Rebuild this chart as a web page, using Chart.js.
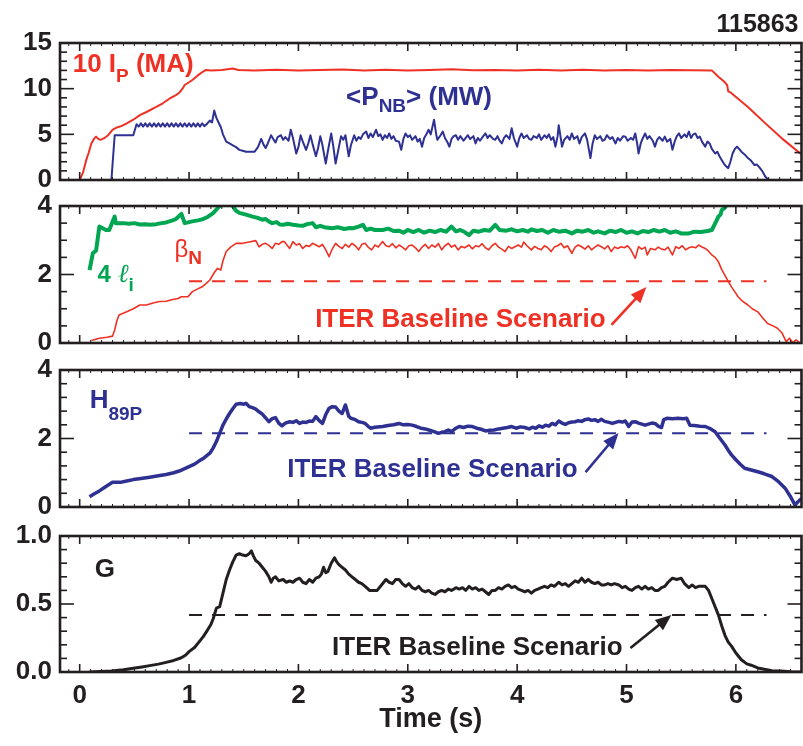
<!DOCTYPE html>
<html><head><meta charset="utf-8">
<script src="https://cdn.jsdelivr.net/npm/chart.js@4.4.1/dist/chart.umd.min.js"></script>
<style>
html,body{margin:0;padding:0;background:#fff;}
#wrap{position:relative;width:803px;height:746px;overflow:hidden;background:#fff;}
canvas{position:absolute;left:0;}
</style></head><body>
<div id="wrap">
<canvas id="c1" width="803" height="210" style="top:0px"></canvas>
<canvas id="c2" width="803" height="197" style="top:176px"></canvas>
<canvas id="c3" width="803" height="197" style="top:340px"></canvas>
<canvas id="c4" width="803" height="240" style="top:506px"></canvas>
</div>
<script>
// ---------------- DATA ----------------
const shotNumber = '115863';
const timeTicks = [0, 1, 2, 3, 4, 5, 6];

// Panel 1: 10 Ip (MA)
const ipT = [-0.18,0.0,0.03,0.06,0.08,0.107,0.13,0.15,0.17,0.19,0.22,0.26,0.30,0.34,0.38,0.43,0.49,0.55,0.62,0.70,0.76,0.82,0.88,0.91,0.94,0.96,1.0,1.03,1.08,1.125,1.156,1.2,1.3,1.4,1.45,1.6,1.8,2.0,2.2,2.4,2.6,2.8,3.0,3.2,3.4,3.6,3.8,4.0,4.2,4.4,4.6,4.8,5.0,5.2,5.4,5.6,5.78,5.84,5.90,5.92,5.93,5.95,5.96,6.11,6.27,6.42,6.6];
const ipV = [0,0,0.8,2.2,2.9,4.0,4.5,4.75,4.5,4.4,4.55,4.9,5.5,5.75,5.9,6.2,6.6,7.1,7.5,8.0,8.4,8.9,9.3,9.55,10.0,10.4,10.7,10.95,11.45,11.85,12.05,11.98,12.05,12.2,12.05,12.0,12.08,11.98,12.05,12.1,12.0,12.06,11.98,12.05,12.12,12.02,12.05,11.98,12.06,12.0,12.08,12.0,12.04,11.98,12.05,12.02,12.0,11.3,10.7,10.4,9.7,9.6,9.5,8.0,6.2,4.56,2.8];

// Panel 1: <P_NB> (MW)
const pnbT = [0.0,0.29,0.32,0.49,0.52,0.54,0.56,0.58,0.60,0.62,0.64,0.66,0.68,0.70,0.72,0.74,0.76,0.78,0.80,0.82,0.84,0.86,0.88,0.90,0.92,0.94,0.96,0.98,1.00,1.02,1.04,1.06,1.08,1.10,1.12,1.14,1.16,
1.19,1.21,1.23,1.25,1.27,1.29,1.31,1.34,1.37,1.40,1.43,1.46,1.49,1.52,1.56,1.60,1.63,1.66,1.68,1.70,1.72,1.75,1.77,1.79,1.81,1.84,1.86,1.88,1.91,1.93,1.95,1.98,2.00,2.02,2.04,2.07,2.09,2.11,2.13,2.16,2.18,2.20,2.22,2.25,2.27,2.30,2.32,2.34,2.36,2.39,2.41,2.43,2.46,2.48,2.51,2.53,2.55,2.57,2.59,2.62,2.64,2.66,2.68,2.71,2.73,2.75,2.77,2.79,2.81,2.83,2.85,2.87,2.89,2.92,2.94,2.96,2.98,3.00,3.02,3.04,3.07,3.09,3.11,3.13,3.15,3.17,3.19,3.21,3.24,3.26,3.27,3.30,3.32,3.34,3.36,3.38,3.40,3.42,3.44,3.46,3.48,3.51,3.53,3.55,3.57,3.60,3.62,3.64,3.66,3.69,3.71,3.73,3.75,3.78,3.80,3.82,3.84,3.86,3.88,3.90,3.93,3.95,3.97,4.00,4.02,4.04,4.06,4.09,4.11,4.13,4.15,4.18,4.20,4.22,4.25,4.27,4.29,4.31,4.33,4.35,4.37,4.38,4.40,4.41,4.43,4.46,4.48,4.50,4.52,4.55,4.57,4.59,4.62,4.64,4.67,4.69,4.71,4.73,4.76,4.78,4.80,4.82,4.85,4.87,4.90,4.92,4.94,4.97,4.99,5.01,5.04,5.06,5.08,5.10,5.11,5.13,5.15,5.17,5.19,5.21,5.24,5.26,5.28,5.30,5.33,5.35,5.37,5.40,5.42,5.44,5.46,5.48,5.50,5.53,5.55,5.57,5.59,5.61,5.63,5.65,5.67,5.69,5.72,5.74,5.76,5.78,5.81,5.83,5.85,5.87,5.89,5.91,5.93,5.95,5.97,5.99,6.01,6.03,6.05,6.08,6.11,6.14,6.17,6.19,6.21,6.24,6.27,6.30,6.60];
const pnbV = [0,0,4.9,4.9,6.1,5.85,6.2,5.85,6.2,5.85,6.2,5.85,6.2,5.85,6.2,5.85,6.2,5.85,6.2,5.85,6.2,5.85,6.2,5.85,6.2,5.85,6.2,5.85,6.2,5.85,6.2,5.85,6.2,5.85,6.2,5.9,6.1,
6.5,6.3,7.6,6.8,6.3,5.8,5.0,4.2,4.0,3.8,3.6,3.3,3.2,3.1,3.1,3.1,3.6,4.5,3.9,3.5,4.0,4.9,4.5,4.1,4.7,4.9,4.4,4.7,4.3,5.5,4.6,2.9,3.6,4.9,4.2,3.3,4.0,4.9,3.9,2.6,3.5,4.8,3.8,1.8,3.2,5.1,3.6,1.8,3.0,4.8,4.4,4.9,2.6,3.8,4.9,4.3,4.7,4.5,5.0,5.3,4.6,5.1,4.7,5.5,4.8,5.0,4.4,4.9,4.6,5.1,4.5,4.8,4.3,4.2,3.3,4.5,5.1,4.7,4.9,4.4,4.8,4.2,4.5,3.65,4.6,5.0,5.5,5.0,6.6,5.0,4.4,4.9,5.3,4.6,4.2,3.65,4.5,4.8,4.9,4.4,4.8,4.3,4.6,4.9,4.5,4.8,4.0,4.6,4.3,4.8,5.1,4.6,4.9,4.5,4.4,4.8,4.3,4.0,4.6,4.9,4.5,5.66,4.6,3.65,4.6,5.1,4.6,4.9,4.5,4.4,4.8,4.6,5.0,4.4,4.9,4.6,5.0,4.4,4.7,3.65,4.8,6.0,4.5,3.65,4.4,4.8,4.4,5.1,4.5,4.8,4.0,4.7,5.1,4.4,2.4,4.0,4.9,4.5,4.8,4.3,4.4,4.9,4.5,4.7,4.0,4.6,4.3,4.8,4.75,4.3,4.6,4.4,5.1,3.8,2.9,4.0,4.6,5.1,4.5,4.8,4.3,3.65,4.4,4.7,4.3,4.75,4.2,4.5,3.3,4.2,4.8,5.1,4.6,5.0,4.7,5.3,4.6,5.0,5.1,4.6,4.75,4.2,3.65,4.2,4.0,3.4,2.9,3.1,2.6,2.2,1.8,1.5,1.3,2.0,2.9,3.4,3.65,3.4,3.1,2.8,2.4,2.1,1.64,1.7,1.46,1.0,0.36,0,0];

// Panel 2: 4 li
const liT = [0.09,0.12,0.15,0.18,0.21,0.24,0.27,0.32,0.33,0.40,0.45,0.50,0.55,0.60,0.64,0.70,0.75,0.79,0.85,0.88,0.93,0.96,1.0,1.03,1.08,1.12,1.17,1.22,1.28,1.34,1.40,1.43,1.46,1.52,1.58,1.62,1.67,1.70,1.73,1.76,1.80,1.83,1.86,1.90,1.95,2.00,2.04,2.08,2.13,2.16,2.20,2.25,2.31,2.36,2.42,2.47,2.50,2.55,2.59,2.62,2.66,2.70,2.77,2.82,2.87,2.92,2.96,3.00,3.05,3.10,3.15,3.20,3.25,3.30,3.35,3.40,3.44,3.48,3.52,3.56,3.60,3.65,3.70,3.75,3.80,3.84,3.90,3.95,4.00,4.05,4.10,4.13,4.18,4.23,4.28,4.33,4.38,4.44,4.50,4.55,4.60,4.65,4.70,4.74,4.80,4.85,4.90,4.95,5.00,5.05,5.10,5.15,5.20,5.25,5.30,5.35,5.40,5.45,5.50,5.57,5.62,5.68,5.74,5.78,5.82,5.84,5.86,5.87,5.90,5.92,5.96];
const liV = [2.13,2.62,2.7,3.4,3.35,3.3,3.3,3.69,3.5,3.5,3.48,3.5,3.46,3.47,3.45,3.47,3.5,3.52,3.58,3.62,3.77,3.5,3.53,3.55,3.58,3.61,3.68,3.79,4.0,4.3,4.0,3.86,3.8,3.75,3.69,3.66,3.6,3.62,3.55,3.5,3.53,3.46,3.45,3.48,3.45,3.43,3.42,3.47,3.5,3.38,3.42,3.37,3.35,3.38,3.33,3.36,3.35,3.4,3.45,3.3,3.34,3.3,3.3,3.34,3.27,3.28,3.22,3.3,3.24,3.3,3.22,3.28,3.24,3.3,3.25,3.4,3.26,3.3,3.24,3.15,3.28,3.25,3.3,3.28,3.45,3.3,3.28,3.32,3.26,3.3,3.25,3.32,3.27,3.3,3.22,3.3,3.25,3.28,3.2,3.28,3.25,3.3,3.22,3.26,3.2,3.28,3.24,3.3,3.22,3.26,3.2,3.27,3.24,3.3,3.25,3.3,3.22,3.26,3.2,3.2,3.25,3.24,3.27,3.3,3.55,3.69,3.75,3.88,3.95,4.05,4.4];

// Panel 2: beta_N
const bnT = [0.107,0.18,0.25,0.30,0.32,0.34,0.36,0.43,0.49,0.55,0.61,0.67,0.73,0.79,0.85,0.90,0.93,0.99,1.03,1.08,1.12,1.16,1.19,1.23,1.26,1.29,1.31,1.34,1.38,1.43,1.49,1.55,1.61,1.64,1.67,1.70,1.73,1.76,1.79,1.82,1.85,1.87,1.92,1.95,1.98,2.01,2.04,2.07,2.10,2.13,2.16,2.19,2.22,2.25,2.28,2.31,2.34,2.37,2.40,2.43,2.46,2.49,2.52,2.55,2.58,2.61,2.64,2.67,2.70,2.73,2.77,2.80,2.83,2.86,2.89,2.92,2.95,2.98,3.01,3.04,3.07,3.10,3.13,3.16,3.19,3.22,3.25,3.28,3.31,3.34,3.37,3.40,3.43,3.46,3.49,3.52,3.56,3.59,3.62,3.65,3.68,3.71,3.74,3.77,3.80,3.83,3.86,3.89,3.92,3.95,3.98,4.01,4.04,4.06,4.09,4.13,4.16,4.19,4.22,4.25,4.28,4.31,4.34,4.37,4.40,4.43,4.46,4.50,4.53,4.56,4.59,4.62,4.65,4.68,4.71,4.74,4.77,4.80,4.83,4.86,4.89,4.92,4.95,4.98,5.01,5.04,5.08,5.11,5.14,5.17,5.19,5.22,5.26,5.29,5.32,5.35,5.38,5.42,5.45,5.48,5.51,5.54,5.57,5.60,5.63,5.66,5.69,5.72,5.75,5.78,5.81,5.84,5.87,5.89,5.93,5.96,6.00,6.02,6.06,6.11,6.15,6.20,6.24,6.29,6.34,6.38,6.42,6.46,6.49,6.52,6.55,6.58];
const bnV = [0.07,0.14,0.17,0.2,0.38,0.65,0.82,0.91,1.0,1.11,1.11,1.17,1.21,1.22,1.27,1.3,1.35,1.35,1.5,1.58,1.64,1.75,1.84,2.05,2.18,2.13,2.4,2.67,2.8,2.91,2.91,2.95,2.99,2.81,2.88,2.91,2.85,2.76,2.91,2.88,2.96,2.96,2.76,2.96,2.86,2.9,2.76,2.85,2.82,2.91,2.86,2.81,2.88,2.72,2.52,2.75,2.91,2.82,2.76,2.88,2.8,2.91,2.84,2.72,2.88,2.91,2.79,2.72,2.86,2.8,2.96,2.84,2.81,2.9,2.78,2.86,2.8,2.72,2.84,2.86,2.78,2.67,2.8,2.88,2.76,2.86,2.8,2.9,2.72,2.84,2.91,2.8,2.86,2.72,2.82,2.78,2.86,2.75,2.84,2.81,2.9,2.78,2.72,2.84,2.91,2.8,2.74,2.67,2.82,2.76,2.81,2.86,2.8,2.95,2.84,2.72,2.82,2.76,2.72,2.84,2.78,2.67,2.8,2.84,2.91,2.78,2.84,2.62,2.8,2.86,2.81,2.74,2.84,2.72,2.8,2.86,2.81,2.75,2.84,2.67,2.8,2.76,2.81,2.78,2.84,2.72,2.47,2.81,2.74,2.8,2.57,2.76,2.72,2.8,2.74,2.72,2.8,2.57,2.81,2.76,2.84,2.72,2.78,2.81,2.78,2.86,2.8,2.76,2.68,2.57,2.5,2.37,2.15,2.03,1.8,1.64,1.45,1.35,1.22,1.11,1.0,0.91,0.75,0.57,0.5,0.43,0.3,0.04,0.14,0.01,0.09,0.02];

// Panel 3: H89P
const hT = [0.09,0.13,0.18,0.24,0.30,0.37,0.43,0.49,0.56,0.64,0.72,0.79,0.86,0.91,0.96,1.0,1.05,1.09,1.14,1.19,1.22,1.25,1.28,1.31,1.34,1.37,1.40,1.43,1.47,1.50,1.52,1.55,1.58,1.61,1.64,1.67,1.70,1.73,1.76,1.79,1.82,1.85,1.88,1.92,1.95,1.98,2.01,2.04,2.07,2.10,2.13,2.16,2.19,2.22,2.25,2.28,2.31,2.34,2.37,2.40,2.43,2.46,2.48,2.52,2.55,2.58,2.61,2.64,2.66,2.70,2.77,2.82,2.87,2.92,2.96,3.0,3.04,3.08,3.12,3.16,3.20,3.24,3.28,3.31,3.34,3.37,3.40,3.44,3.47,3.51,3.55,3.59,3.63,3.67,3.71,3.75,3.79,3.83,3.87,3.91,3.95,3.99,4.03,4.07,4.11,4.14,4.17,4.20,4.23,4.26,4.29,4.32,4.35,4.38,4.41,4.44,4.47,4.50,4.53,4.56,4.59,4.62,4.65,4.68,4.71,4.74,4.77,4.80,4.84,4.87,4.90,4.93,4.96,4.99,5.02,5.05,5.08,5.11,5.14,5.17,5.20,5.23,5.26,5.29,5.32,5.34,5.37,5.42,5.47,5.52,5.55,5.58,5.62,5.67,5.72,5.77,5.81,5.85,5.90,5.93,5.96,6.0,6.04,6.08,6.14,6.20,6.26,6.33,6.39,6.45,6.50,6.54,6.57,6.60];
const hV = [0.3,0.38,0.47,0.6,0.72,0.72,0.76,0.8,0.83,0.87,0.91,0.95,1.0,1.05,1.12,1.18,1.25,1.34,1.44,1.57,1.72,1.91,2.15,2.39,2.57,2.73,2.87,3.0,3.02,3.0,3.03,2.93,2.9,2.86,2.78,2.71,2.6,2.49,2.58,2.61,2.45,2.37,2.45,2.49,2.47,2.52,2.44,2.48,2.47,2.51,2.5,2.64,2.52,2.44,2.7,2.88,2.93,2.92,2.8,2.73,2.98,2.65,2.59,2.55,2.49,2.47,2.44,2.35,2.3,2.33,2.35,2.38,2.4,2.44,2.4,2.41,2.39,2.35,2.3,2.28,2.24,2.2,2.15,2.18,2.2,2.25,2.2,2.3,2.35,2.32,2.36,2.35,2.3,2.27,2.22,2.24,2.25,2.28,2.3,2.32,2.35,2.3,2.34,2.32,2.28,2.33,2.3,2.37,2.33,2.39,2.36,2.44,2.4,2.51,2.45,2.41,2.46,2.48,2.49,2.52,2.5,2.55,2.57,2.53,2.55,2.5,2.56,2.5,2.47,2.44,2.47,2.5,2.48,2.51,2.35,2.48,2.49,2.45,2.42,2.39,2.42,2.45,2.44,2.36,2.32,2.55,2.59,2.58,2.59,2.58,2.59,2.39,2.38,2.36,2.35,2.28,2.2,2.02,1.81,1.66,1.52,1.38,1.25,1.13,1.08,1.03,0.97,0.89,0.74,0.55,0.3,0.06,0.16,0.25];

// Panel 4: G
const gT = [0.09,0.29,0.40,0.49,0.57,0.64,0.72,0.79,0.86,0.93,0.97,1.0,1.05,1.09,1.13,1.17,1.20,1.22,1.25,1.28,1.31,1.34,1.37,1.40,1.43,1.46,1.49,1.52,1.55,1.57,1.59,1.61,1.64,1.67,1.70,1.73,1.75,1.77,1.79,1.82,1.86,1.89,1.92,1.95,1.98,2.01,2.04,2.07,2.10,2.13,2.16,2.19,2.21,2.23,2.25,2.27,2.30,2.33,2.35,2.37,2.40,2.43,2.46,2.49,2.52,2.55,2.58,2.61,2.65,2.68,2.72,2.76,2.80,2.83,2.86,2.89,2.92,2.95,2.98,3.01,3.04,3.07,3.10,3.13,3.16,3.19,3.22,3.25,3.28,3.31,3.34,3.37,3.40,3.44,3.47,3.50,3.53,3.56,3.59,3.62,3.65,3.68,3.71,3.74,3.77,3.80,3.83,3.86,3.89,3.92,3.95,3.98,4.01,4.04,4.07,4.10,4.13,4.16,4.19,4.22,4.25,4.28,4.31,4.34,4.38,4.41,4.44,4.47,4.50,4.53,4.56,4.59,4.62,4.65,4.68,4.71,4.74,4.77,4.80,4.83,4.86,4.89,4.93,4.96,4.99,5.02,5.05,5.08,5.11,5.14,5.17,5.20,5.23,5.26,5.29,5.32,5.35,5.38,5.42,5.46,5.50,5.53,5.57,5.60,5.63,5.66,5.69,5.72,5.75,5.78,5.81,5.84,5.87,5.90,5.93,5.96,6.0,6.05,6.10,6.14,6.20,6.26,6.33,6.41,6.50,6.60];
const gV = [0.0,0.007,0.017,0.027,0.037,0.047,0.058,0.071,0.085,0.105,0.125,0.15,0.18,0.22,0.26,0.31,0.35,0.39,0.47,0.48,0.58,0.68,0.75,0.81,0.86,0.87,0.86,0.855,0.87,0.89,0.85,0.82,0.8,0.77,0.74,0.7,0.66,0.69,0.7,0.67,0.68,0.66,0.67,0.66,0.68,0.69,0.66,0.65,0.68,0.66,0.69,0.7,0.72,0.77,0.73,0.74,0.8,0.84,0.81,0.79,0.77,0.75,0.72,0.7,0.68,0.66,0.65,0.63,0.6,0.6,0.6,0.64,0.68,0.66,0.65,0.68,0.68,0.65,0.63,0.65,0.62,0.61,0.63,0.6,0.59,0.6,0.58,0.57,0.59,0.6,0.59,0.61,0.6,0.62,0.61,0.62,0.6,0.63,0.61,0.62,0.6,0.61,0.59,0.57,0.6,0.6,0.62,0.61,0.63,0.64,0.62,0.63,0.61,0.6,0.59,0.6,0.58,0.6,0.61,0.62,0.63,0.62,0.64,0.63,0.66,0.64,0.65,0.63,0.65,0.67,0.66,0.69,0.66,0.68,0.66,0.65,0.66,0.64,0.64,0.65,0.64,0.65,0.64,0.62,0.63,0.61,0.6,0.62,0.63,0.61,0.63,0.61,0.62,0.6,0.6,0.62,0.63,0.66,0.69,0.68,0.69,0.65,0.62,0.64,0.62,0.63,0.63,0.63,0.6,0.54,0.48,0.42,0.34,0.27,0.22,0.19,0.14,0.09,0.06,0.05,0.03,0.02,0.01,0.007,0.002,0.0];

// ITER baseline reference levels and their time span
const iterSpanT = [1.0, 6.28];
const iterBetaN = [1.8, 1.8];
const iterH89P = [2.15, 2.15];
const iterG = [0.42, 0.42];

// ---------------- STYLE ----------------
const INK = '#231f20', RED = '#ee3124', BLUE = '#2e3192', GREEN = '#00a651';
const FAM = '"Liberation Sans", Arial, sans-serif';
Chart.defaults.font.family = FAM;
const B26 = 'bold 26px ' + FAM, B19 = 'bold 19px ' + FAM;
const pts = (T, V) => T.map((t, i) => ({x: t, y: V[i]}));

function makeFrame(cfg) {
  return {
    id: 'frame_' + cfg.id,
    afterDatasetsDraw(chart) {
      const {ctx, chartArea: a, scales: {x, y}} = chart;
      ctx.save();
      ctx.strokeStyle = INK;
      const seg = (x1, y1, x2, y2) => { ctx.beginPath(); ctx.moveTo(x1, y1); ctx.lineTo(x2, y2); ctx.stroke(); };
      // y ticks (inward, both sides)
      ctx.lineWidth = 1.6;
      const n = Math.round((cfg.yMax - cfg.yMin) / cfg.yMinor);
      for (let k = 0; k <= n; k++) {
        const v = cfg.yMin + k * cfg.yMinor;
        const r = v / cfg.yMajor;
        const major = Math.abs(r - Math.round(r)) < 1e-6;
        const py = y.getPixelForValue(v);
        const L = major ? 14 : 7;
        seg(a.left, py, a.left + L, py);
        seg(a.right, py, a.right - L, py);
      }
      // x ticks (inward, top and bottom)
      for (let k = Math.ceil(x.min * 10); k <= Math.floor(x.max * 10); k++) {
        const px = x.getPixelForValue(k / 10);
        const L = (k % 10 === 0) ? 8 : 3;
        ctx.lineWidth = (k % 10 === 0) ? 1.6 : 1;
        seg(px, a.bottom, px, a.bottom - L);
        seg(px, a.top, px, a.top + L);
      }
      ctx.lineWidth = 2.6;
      ctx.strokeRect(a.left, a.top, a.right - a.left, a.bottom - a.top);
      // texts
      ctx.textBaseline = 'alphabetic';
      ctx.textAlign = 'left';
      (cfg.texts || []).forEach(tx => {
        let px = x.getPixelForValue(tx.t);
        const py = y.getPixelForValue(tx.v);
        ctx.fillStyle = tx.color;
        tx.parts.forEach(([s, f, dy]) => {
          ctx.font = f;
          ctx.fillText(s, px, py + dy);
          px += ctx.measureText(s).width;
        });
      });
      // arrows
      (cfg.arrows || []).forEach(ar => {
        const x1 = x.getPixelForValue(ar.t1), y1 = y.getPixelForValue(ar.v1);
        const x2 = x.getPixelForValue(ar.t2), y2 = y.getPixelForValue(ar.v2);
        const ang = Math.atan2(y2 - y1, x2 - x1);
        const HL = 16, HW = 6.5;
        const bx = x2 - HL * Math.cos(ang), by = y2 - HL * Math.sin(ang);
        ctx.strokeStyle = ar.color; ctx.fillStyle = ar.color; ctx.lineWidth = 2.6;
        seg(x1, y1, bx + 2 * Math.cos(ang), by + 2 * Math.sin(ang));
        ctx.beginPath();
        ctx.moveTo(x2, y2);
        ctx.lineTo(bx + HW * Math.sin(ang), by - HW * Math.cos(ang));
        ctx.lineTo(bx - HW * Math.sin(ang), by + HW * Math.cos(ang));
        ctx.closePath(); ctx.fill();
      });
      if (cfg.extra) cfg.extra(ctx, a);
      ctx.restore();
    }
  };
}

function makeChart(cfg) {
  return new Chart(document.getElementById(cfg.id), {
    type: 'line',
    data: {datasets: cfg.datasets},
    options: {
      responsive: false, animation: false, devicePixelRatio: 1,
      layout: {padding: cfg.padding},
      plugins: {legend: {display: false}, tooltip: {enabled: false}},
      elements: {point: {radius: 0, hoverRadius: 0}, line: {tension: 0, borderCapStyle: 'butt', borderJoinStyle: 'round'}},
      scales: {
        x: {
          type: 'linear', min: -0.18, max: 6.6, display: cfg.showX,
          grid: {display: false, drawTicks: false}, border: {display: false},
          afterBuildTicks: s => { s.ticks = timeTicks.map(v => ({value: v})); },
          ticks: {padding: 8, color: INK, font: {size: 26, weight: 'bold'}, autoSkip: false, maxRotation: 0,
                  callback: v => String(v)},
          title: {display: cfg.showX, text: 'Time (s)', color: INK, font: {size: 27, weight: 'bold'}, padding: {top: 0, bottom: 10}},
          afterFit: s => { if (cfg.showX) s.height = 74; }
        },
        y: {
          type: 'linear', min: cfg.yMin, max: cfg.yMax,
          grid: {display: false, drawTicks: false}, border: {display: false},
          afterBuildTicks: s => { s.ticks = cfg.yTicks.map(v => ({value: v})); },
          ticks: {padding: 8, color: INK, font: {size: 26, weight: 'bold'}, autoSkip: false,
                  callback: v => cfg.yFmt(v)},
          afterFit: s => { s.width = 60; }
        }
      }
    },
    plugins: [makeFrame(cfg)]
  });
}

const lineDs = (data, color, w, dash) => ({data, borderColor: color, borderWidth: w, borderDash: dash || [], fill: false, pointRadius: 0});
const DASH = [13, 10];

// Panel 1
makeChart({
  id: 'c1', showX: false, padding: {top: 43, bottom: 30, left: 0, right: 1.5},
  yMin: 0, yMax: 15, yMajor: 5, yMinor: 1, yTicks: [0, 5, 10, 15], yFmt: v => String(v),
  datasets: [lineDs(pts(pnbT, pnbV), BLUE, 2), lineDs(pts(ipT, ipV), RED, 2)],
  texts: [
    {t: -0.064, v: 11.83, color: RED, parts: [['10 I', B26, 0], ['P', B19, 10], [' (MA)', B26, 0]]},
    {t: 2.436, v: 8.21, color: BLUE, parts: [['<P', B26, 0], ['NB', B19, 7], ['> (MW)', B26, 0]]}
  ],
  extra: (ctx, a) => { ctx.fillStyle = INK; ctx.font = 'bold 25px ' + FAM; ctx.textAlign = 'right'; ctx.fillText(shotNumber, a.right - 3, 32); }
});

// Panel 2
makeChart({
  id: 'c2', showX: false, padding: {top: 30, bottom: 30, left: 0, right: 1.5},
  yMin: 0, yMax: 4, yMajor: 2, yMinor: 0.5, yTicks: [0, 2, 4], yFmt: v => String(v),
  datasets: [lineDs(pts(iterSpanT, iterBetaN), RED, 2, DASH), lineDs(pts(liT, liV), GREEN, 4), lineDs(pts(bnT, bnV), RED, 1.6)],
  texts: [
    {t: 0.164, v: 1.78, color: GREEN, parts: [['4 ', 'bold 24px ' + FAM, 0], ['\u2113', 'italic 26px "DejaVu Serif"', 0], ['i', B19, 9]]},
    {t: 0.867, v: 2.50, color: RED, parts: [['\u03B2', '24px ' + FAM, 0], ['N', B19, 7]]},
    {t: 2.153, v: 0.467, color: RED, parts: [['ITER Baseline Scenario', B26, 0]]}
  ],
  arrows: [{t1: 4.863, v1: 0.526, t2: 5.182, v2: 1.635, color: RED}]
});

// Panel 3
makeChart({
  id: 'c3', showX: false, padding: {top: 30, bottom: 30, left: 0, right: 1.5},
  yMin: 0, yMax: 4, yMajor: 2, yMinor: 0.4, yTicks: [0, 2, 4], yFmt: v => String(v),
  datasets: [lineDs(pts(iterSpanT, iterH89P), BLUE, 2, DASH), lineDs(pts(hT, hV), BLUE, 3.5)],
  texts: [
    {t: 0.091, v: 2.89, color: BLUE, parts: [['H', B26, 0], ['89P', B19, 12]]},
    {t: 1.898, v: 0.876, color: BLUE, parts: [['ITER Baseline Scenario', B26, 0]]}
  ],
  arrows: [{t1: 4.626, v1: 1.02, t2: 4.927, v2: 2.16, color: BLUE}]
});

// Panel 4
makeChart({
  id: 'c4', showX: true, padding: {top: 30, bottom: 0, left: 0, right: 1.5},
  yMin: 0, yMax: 1, yMajor: 0.5, yMinor: 0.1, yTicks: [0, 0.5, 1], yFmt: v => Number(v).toFixed(1),
  datasets: [lineDs(pts(iterSpanT, iterG), INK, 2, DASH), lineDs(pts(gT, gV), INK, 3)],
  texts: [
    {t: 0.137, v: 0.699, color: INK, parts: [['G', B26, 0]]},
    {t: 2.308, v: 0.125, color: INK, parts: [['ITER Baseline Scenario', B26, 0]]}
  ],
  arrows: [{t1: 5.036, v1: 0.176, t2: 5.41, v2: 0.419, color: INK}]
});
</script>
</body></html>
